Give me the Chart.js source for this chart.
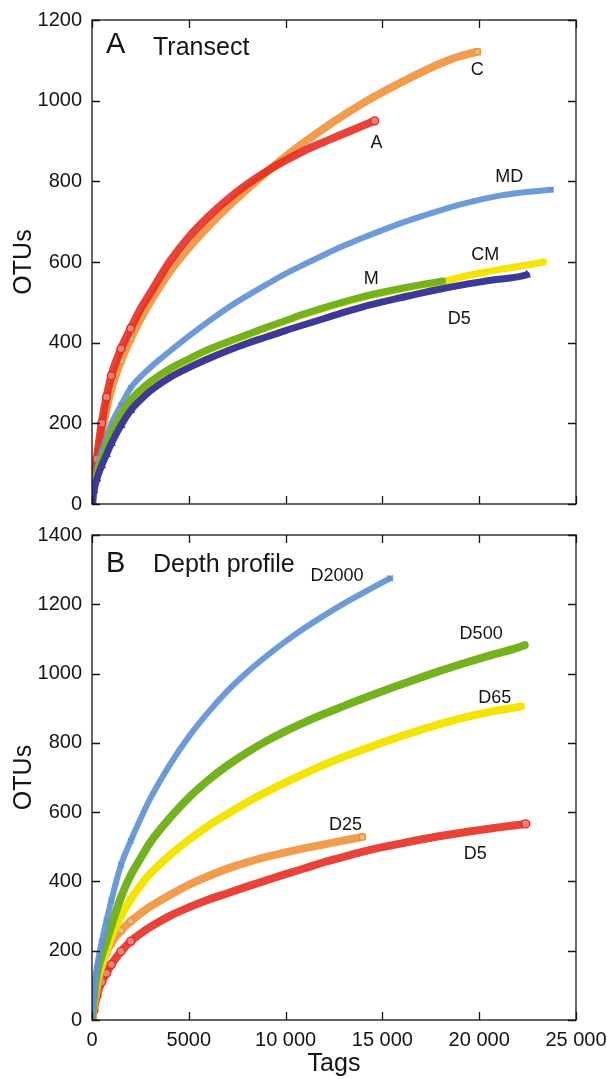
<!DOCTYPE html>
<html>
<head>
<meta charset="utf-8">
<script src="https://cdn.jsdelivr.net/npm/chart.js@4.4.1/dist/chart.umd.min.js"></script>
<style>
  html, body { margin: 0; padding: 0; background: #fff; }
  #wrap { position: relative; width: 607px; height: 1079px; }
  .panel { position: absolute; left: 0; width: 607px; }
  #panelA { top: 0; height: 520px; }
  #panelB { top: 520px; height: 559px; }
  canvas { display: block; }
</style>
</head>
<body>
<div id="wrap">
  <div class="panel" id="panelA"><canvas id="chartA" width="607" height="520"></canvas></div>
  <div class="panel" id="panelB"><canvas id="chartB" width="607" height="559"></canvas></div>
</div>
<script>
// Sampling depths (tags) at which OTU counts are recorded
const tagGrid = [0, 100, 250, 500, 750, 1000, 1500, 2000, 2500, 3000, 4000, 5000, 6000, 7000, 8000,
  9000, 10000, 11000, 12000, 13000, 14000, 15000, 16000, 17000, 18000, 19000, 20000, 21000, 22000, 23000];

// Axis ticks
const xTickValues = [0, 5000, 10000, 15000, 20000, 25000];
const xTickLabels = ['0', '5000', '10 000', '15 000', '20 000', '25 000'];

// Panel A: transect samples (OTUs at each grid depth, last value at the final depth)
const transectNames = ['A', 'C', 'MD', 'M', 'CM', 'D5'];
const transectEnds = [14600, 19900, 23700, 18100, 23300, 22450];
const otusA_A = [0, 55, 112, 200, 265, 318, 385, 435, 483, 522, 600, 662, 712, 755, 792, 824, 852, 877, 898, 918, 938, 950];
const otusA_C = [0, 45, 95, 175, 235, 285, 355, 410, 458, 500, 575, 635, 688, 736, 780, 822, 862, 898, 932, 964, 994, 1021, 1046, 1070, 1092, 1110, 1121];
const otusA_MD = [0, 45, 85, 130, 165, 198, 245, 288, 315, 338, 378, 416, 452, 486, 516, 544, 571, 595, 618, 640, 660, 679, 697, 713, 728, 742, 754, 764, 771, 776, 779];
const otusA_M = [0, 40, 70, 112, 145, 175, 222, 258, 283, 303, 335, 360, 383, 402, 420, 438, 455, 472, 487, 501, 514, 525, 535, 544, 552, 553];
const otusA_CM = [0, 39, 69, 110, 143, 173, 220, 256, 281, 301, 333, 358, 381, 400, 418, 436, 453, 470, 485, 499, 512, 523, 533, 542, 550, 562, 572, 581, 589, 597, 600];
const otusA_D5 = [0, 33, 62, 95, 123, 150, 195, 232, 258, 280, 313, 338, 360, 380, 398, 414, 430, 445, 460, 475, 489, 501, 512, 523, 533, 542, 550, 557, 563, 568];

// Panel B: depth profile samples
const depthNames = ['D2000', 'D500', 'D65', 'D25', 'D5'];
const depthEnds = [15400, 22350, 22150, 13950, 22400];
const otusB_D2000 = [0, 75, 150, 225, 287, 345, 448, 517, 580, 638, 735, 818, 888, 950, 1003, 1050, 1093, 1132, 1168, 1202, 1233, 1263, 1275];
const otusB_D500 = [0, 65, 130, 185, 228, 272, 355, 418, 466, 512, 582, 642, 692, 735, 772, 805, 834, 860, 884, 906, 928, 949, 969, 989, 1008, 1026, 1043, 1059, 1075, 1082];
const otusB_D65 = [0, 55, 112, 160, 200, 240, 300, 348, 388, 422, 475, 520, 560, 595, 628, 658, 686, 712, 737, 760, 781, 801, 820, 838, 855, 870, 883, 894, 903, 905];
const otusB_D25 = [0, 40, 85, 155, 195, 222, 258, 285, 307, 327, 360, 390, 415, 437, 455, 471, 484, 496, 507, 518, 528];
const otusB_D5 = [0, 28, 70, 110, 135, 160, 198, 227, 249, 268, 300, 325, 347, 366, 385, 403, 421, 438, 456, 471, 486, 499, 510, 521, 531, 540, 548, 556, 563, 566];

// Curve name annotations, anchored in data units
const labelTagsA = [19900, 14690, 21550, 20310, 14430, 18970];
const labelOtusA = [1076, 895, 811, 617, 558, 459];
const labelTextA = ['C', 'A', 'MD', 'CM', 'M', 'D5'];
const labelTagsB = [12650, 20100, 20800, 13090, 19790];
const labelOtusB = [1282, 1114, 928, 563, 479];
const labelTextB = ['D2000', 'D500', 'D65', 'D25', 'D5'];

const FONT = '"Liberation Sans", Arial, Helvetica, sans-serif';
const INK = '#151515';

const COLORS = {
  red: 'rgb(230,40,30)',
  orange: 'rgb(240,146,58)',
  blue: 'rgb(96,146,212)',
  green: 'rgb(116,178,30)',
  yellow: 'rgb(244,229,0)',
  navy: 'rgb(60,58,150)'
};
const BANDS = {
  red: 'rgba(230,40,30,0.88)',
  orange: 'rgba(240,146,58,0.9)',
  blue: 'rgba(96,146,212,0.92)',
  green: 'rgb(116,178,30)',
  yellow: 'rgb(244,229,0)',
  navy: 'rgb(60,58,150)'
};

function curve(values, endTag) {
  const pts = [];
  tagGrid.forEach((t, i) => { if (t < endTag) pts.push({ x: t, y: values[i] }); });
  pts.push({ x: endTag, y: values[values.length - 1] });
  return pts;
}

// marker shown on the steep early points and at the end of each curve
function markerRadius(r) {
  return ctx => {
    const n = ctx.dataset.data.length;
    return (ctx.dataIndex < 8 || ctx.dataIndex === n - 1) ? r : 0;
  };
}

function series(name, values, endTag, colorKey, marker, filled, band, radius, order) {
  return {
    label: name,
    data: curve(values, endTag),
    showLine: true,
    cubicInterpolationMode: 'monotone',
    borderColor: BANDS[colorKey],
    borderWidth: band,
    borderCapStyle: 'round',
    pointStyle: marker,
    pointRadius: markerRadius(radius),
    pointBorderWidth: marker === 'crossRot' && filled ? 2.6 : 1.4,
    pointBorderColor: COLORS[colorKey],
    pointBackgroundColor: filled ? COLORS[colorKey] : 'rgba(255,255,255,0.35)',
    order: order
  };
}

const framePlugin = {
  id: 'frame',
  afterDatasetsDraw(chart, args, opts) {
    const { ctx, chartArea: a, scales: { x, y } } = chart;
    ctx.save();
    ctx.strokeStyle = INK;
    ctx.lineWidth = 1.3;
    ctx.strokeRect(a.left, a.top, a.right - a.left, a.bottom - a.top);
    const len = 8;
    ctx.beginPath();
    x.ticks.forEach(t => {
      const px = Math.round(x.getPixelForValue(t.value)) + 0.5;
      ctx.moveTo(px, a.bottom); ctx.lineTo(px, a.bottom - len);
      ctx.moveTo(px, a.top); ctx.lineTo(px, a.top + len);
    });
    y.ticks.forEach(t => {
      const py = Math.round(y.getPixelForValue(t.value)) + 0.5;
      ctx.moveTo(a.left, py); ctx.lineTo(a.left + len, py);
      ctx.moveTo(a.right, py); ctx.lineTo(a.right - len, py);
    });
    ctx.stroke();

    // panel letter and heading
    ctx.fillStyle = INK;
    ctx.textBaseline = 'alphabetic';
    ctx.textAlign = 'left';
    ctx.font = '29px ' + FONT;
    ctx.fillText(opts.letter, a.left + 14, a.top + opts.letterBase);
    ctx.font = '25px ' + FONT;
    ctx.fillText(opts.heading, a.left + 61, a.top + opts.headingBase);

    // curve names
    ctx.font = '18px ' + FONT;
    ctx.textAlign = 'center';
    ctx.textBaseline = 'middle';
    opts.names.forEach((n, i) => {
      ctx.fillText(n, x.getPixelForValue(opts.tags[i]), y.getPixelForValue(opts.otus[i]));
    });
    ctx.restore();
  }
};

function makeOptions(yMax, showX, bottomHeight, frameOpts) {
  return {
    responsive: false,
    animation: false,
    devicePixelRatio: 1,
    layout: { padding: { top: frameOpts.padTop, right: 31, left: 0, bottom: 0 } },
    plugins: {
      legend: { display: false },
      tooltip: { enabled: false },
      frame: frameOpts
    },
    scales: {
      x: {
        type: 'linear',
        min: 0, max: 25000,
        grid: { display: false, drawTicks: false },
        border: { display: false },
        ticks: {
          display: showX,
          stepSize: 5000,
          autoSkip: false,
          maxRotation: 0,
          padding: 8,
          color: INK,
          font: { family: FONT, size: 20 },
          callback: v => xTickLabels[xTickValues.indexOf(v)]
        },
        title: {
          display: showX,
          text: 'Tags',
          color: INK,
          font: { family: FONT, size: 25 },
          padding: { top: 0, bottom: 0 }
        },
        afterFit: s => { s.height = bottomHeight; s.paddingLeft = 0; s.paddingRight = 0; }
      },
      y: {
        min: 0, max: yMax,
        grid: { display: false, drawTicks: false },
        border: { display: false },
        ticks: {
          stepSize: 200,
          padding: 10,
          color: INK,
          font: { family: FONT, size: 20 },
          callback: v => String(v)
        },
        title: {
          display: true,
          text: 'OTUs',
          color: INK,
          font: { family: FONT, size: 25 },
          padding: { top: 9, bottom: 0 }
        },
        afterFit: s => { s.width = 92; s.paddingTop = 0; s.paddingBottom = 0; }
      }
    }
  };
}

const transectData = [
  series('D5', otusA_D5, transectEnds[5], 'navy', 'triangle', true, 7, 3.8, 1),
  series('M', otusA_M, transectEnds[3], 'green', 'crossRot', true, 7, 3.8, 2),
  series('CM', otusA_CM, transectEnds[4], 'yellow', 'rect', true, 7, 3.5, 3),
  series('MD', otusA_MD, transectEnds[2], 'blue', 'crossRot', false, 6, 3.8, 4),
  series('A', otusA_A, transectEnds[0], 'red', 'circle', false, 8, 4, 5),
  series('C', otusA_C, transectEnds[1], 'orange', 'rect', false, 8, 4, 6)
];

const depthData = [
  series('D2000', otusB_D2000, depthEnds[0], 'blue', 'crossRot', false, 6, 4, 1),
  series('D500', otusB_D500, depthEnds[1], 'green', 'crossRot', true, 8, 4, 2),
  series('D65', otusB_D65, depthEnds[2], 'yellow', 'rect', true, 8, 3.6, 3),
  series('D25', otusB_D25, depthEnds[3], 'orange', 'rect', false, 8, 4, 4),
  series('D5', otusB_D5, depthEnds[4], 'red', 'circle', false, 8, 4, 5)
];

new Chart(document.getElementById('chartA'), {
  type: 'scatter',
  data: { datasets: transectData },
  options: makeOptions(1200, false, 16, {
    padTop: 20, letter: 'A', heading: 'Transect', letterBase: 33, headingBase: 35,
    names: labelTextA, tags: labelTagsA, otus: labelOtusA
  }),
  plugins: [framePlugin]
});

new Chart(document.getElementById('chartB'), {
  type: 'scatter',
  data: { datasets: depthData },
  options: makeOptions(1400, true, 59, {
    padTop: 15, letter: 'B', heading: 'Depth profile', letterBase: 37, headingBase: 37,
    names: labelTextB, tags: labelTagsB, otus: labelOtusB
  }),
  plugins: [framePlugin]
});
</script>
</body>
</html>
